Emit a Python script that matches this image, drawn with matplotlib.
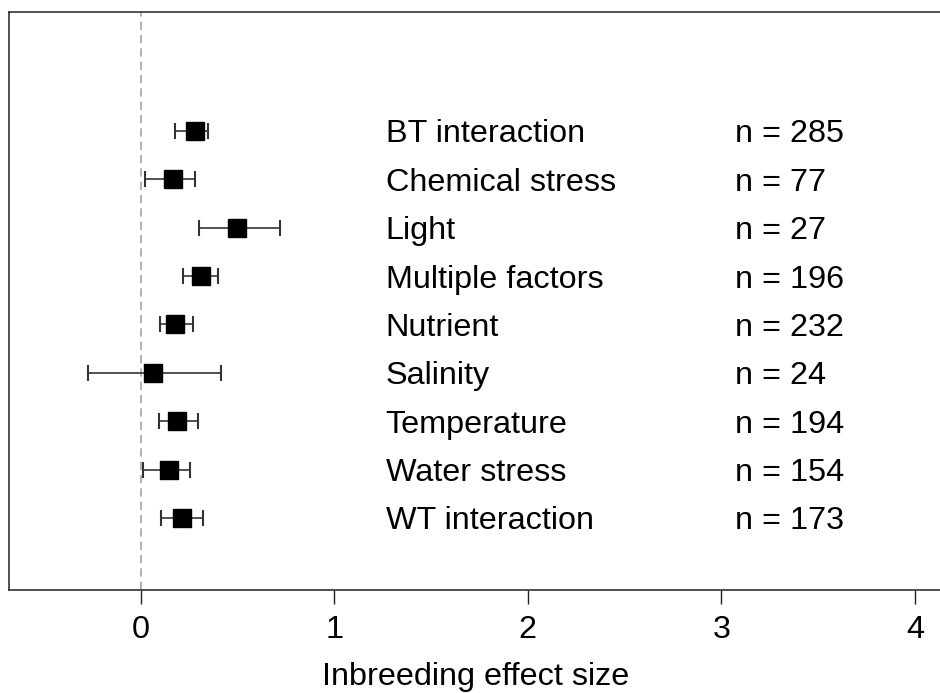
import numpy as np
import matplotlib
matplotlib.use("Agg")
import matplotlib.pyplot as plt

# effect sizes by stress category
categories = ["BT interaction", "Chemical stress", "Light", "Multiple factors",
              "Nutrient", "Salinity", "Temperature", "Water stress", "WT interaction"]
n_obs = [285, 77, 27, 196, 232, 24, 194, 154, 173]
effect = [0.279, 0.165, 0.50, 0.31, 0.18, 0.064, 0.19, 0.145, 0.215]
ci_low = [0.18, 0.02, 0.30, 0.22, 0.10, -0.274, 0.093, 0.014, 0.107]
ci_high = [0.35, 0.28, 0.72, 0.40, 0.27, 0.417, 0.295, 0.253, 0.324]
xticks = [0, 1, 2, 3, 4]

plt.rcParams['font.family'] = ['Liberation Sans', 'DejaVu Sans']
FS = 23.3

fig = plt.figure(figsize=(9.4, 6.93), dpi=100)
# right spine sits just past the image edge, as in the reference
ax = fig.add_axes([0.0096, 0.1486, 0.9925, 0.8341])

y = np.arange(len(categories))[::-1] + 1
effect = np.array(effect)
err = np.vstack([effect - np.array(ci_low), np.array(ci_high) - effect])

ax.axvline(0, color="#a6a6a6", linestyle=(0, (5, 3)), linewidth=1.2, zorder=1)
ax.errorbar(effect, y, xerr=err, fmt="s", color="black", ecolor="#333333",
            markersize=13.5, elinewidth=1.2, capsize=5.5, capthick=1.5, zorder=3)

for yi, cat, n in zip(y, categories, n_obs):
    ax.text(1.266, yi, cat, fontsize=FS, va="center_baseline", ha="left")
    ax.text(3.07, yi, f"n = {n}", fontsize=FS, va="center_baseline", ha="left")

ax.set_xlim(-0.68, 4.14)
ax.set_ylim(-0.49, 11.46)
ax.set_yticks([])
ax.set_xticks(xticks)
ax.tick_params(axis="x", length=10, width=1, labelsize=FS, pad=8, color="#222222")
ax.set_xlabel("Inbreeding effect size", fontsize=FS, labelpad=12)
for s in ax.spines.values():
    s.set_linewidth(1.1)
    s.set_color("#222222")

fig.savefig("out.png", dpi=100)
